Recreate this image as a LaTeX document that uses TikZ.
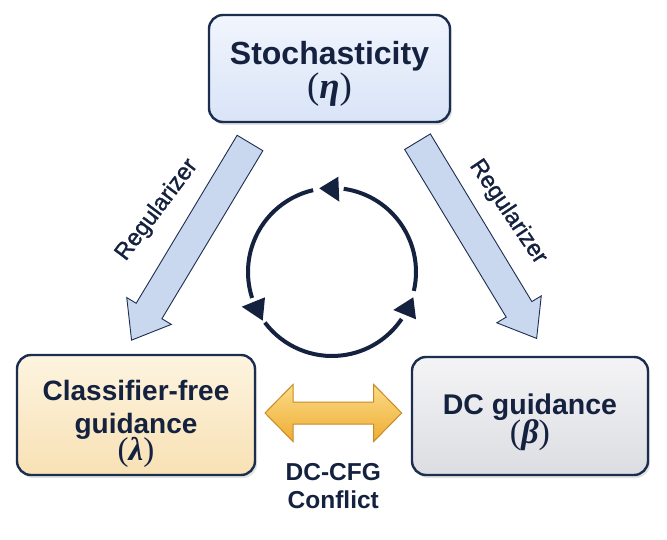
\documentclass[tikz,border=0pt]{standalone}
\usepackage{fontspec}
\setmainfont{Liberation Sans}
\newfontfamily\grk{Liberation Serif}
\newcommand{\gsym}[1]{{\grk\mdseries(\textbf{\textit{#1}})}}
\newcommand{\noskip}{\lineskiplimit-100pt\relax}
\usetikzlibrary{shadows,calc}
\definecolor{navy}{HTML}{15223F}
\definecolor{boxline}{HTML}{1C2E50}
\definecolor{bluetop}{HTML}{F1F5FD}
\definecolor{bluebot}{HTML}{D9E4F7}
\definecolor{yeltop}{HTML}{FDF4E0}
\definecolor{yelbot}{HTML}{F8E1B4}
\definecolor{graytop}{HTML}{F4F4F6}
\definecolor{graybot}{HTML}{DCDDE2}
\definecolor{arrowfill}{HTML}{C9D8EF}
\definecolor{dbltop}{HTML}{FADB88}
\definecolor{dblbot}{HTML}{EFAD33}
\definecolor{dblline}{HTML}{C98A22}
\begin{document}
\begin{tikzpicture}[x=1pt,y=1pt,
  box/.style={draw=boxline, line width=2.4pt, rounded corners=14pt, align=center,
    text=navy, inner sep=0pt,
    drop shadow={opacity=0.22, shadow xshift=2pt, shadow yshift=-3pt}},
  bigarrow/.style={draw=boxline, line width=0.9pt, fill=arrowfill, line join=miter},
  dblarrow/.style={draw=dblline, line width=1pt, top color=dbltop, bottom color=dblbot},
  cycarc/.style={draw=navy, line width=4pt},
  tip/.style={fill=navy},
  reglabel/.style={text=navy, font={\fontsize{23.5}{23.5}\selectfont\addfontfeature{FakeBold=1.2}}},
]
\fill[white] (0,0) rectangle (667,539);
\useasboundingbox (0,0) rectangle (667,539);

% boxes
\node[box, top color=bluetop, bottom color=bluebot, minimum width=241pt, minimum height=107pt,
  font={\bfseries\fontsize{32}{34}\selectfont\noskip}] (stoch) at (329.5,470.5)
  {\rule{0pt}{33pt}Stochasticity\\{\fontsize{37}{34}\selectfont\gsym{η}}};
\node[box, top color=yeltop, bottom color=yelbot, minimum width=238pt, minimum height=120pt,
  font={\bfseries\fontsize{28}{33}\selectfont\noskip}] (cfg) at (136,124)
  {\rule{0pt}{38pt}Classifier-free\\guidance\\[-6pt]{\fontsize{33}{33}\selectfont\gsym{λ}}};
\node[box, top color=graytop, bottom color=graybot, minimum width=236pt, minimum height=118pt,
  font={\bfseries\fontsize{28.5}{29}\selectfont\noskip}] (dc) at (530,123)
  {\rule{0pt}{33pt}DC guidance\\{\fontsize{34}{29}\selectfont\gsym{β}}};

% regularizer arrows
\coordinate (l0) at (250,396);
\coordinate (r0) at (417.5,397.3);
\begin{scope}[shift={(l0)}, rotate=-121]
  \draw[bigarrow] (0,-15) -- (196,-15) -- (196,-26) -- (230,0) -- (196,26) -- (196,15) -- (0,15) -- cycle;
\end{scope}
\begin{scope}[shift={(r0)}, rotate=-58.8]
  \draw[bigarrow] (0,-15) -- (196,-15) -- (196,-26) -- (230,0) -- (196,26) -- (196,15) -- (0,15) -- cycle;
\end{scope}
\node[reglabel, rotate=53] (regL) at (157,329) {Regularizer};
\node[reglabel, rotate=-56] (regR) at (508,327) {Regularizer};

% cycle
\coordinate (cyc) at (332,267);
\draw[cycarc] ([shift={(103:84)}]cyc) arc[start angle=103, end angle=198, radius=84];
\draw[cycarc] ([shift={(217:84)}]cyc) arc[start angle=217, end angle=326, radius=84];
\draw[cycarc] ([shift={(347:84)}]cyc) arc[start angle=347, end angle=442, radius=84];
\fill[tip] (319.3,350.7) -- (338.3,362.3) -- (339.3,337.3) -- cycle;
\fill[tip] (241.7,232.3) -- (265,241.7) -- (262.7,218.3) -- cycle;
\fill[tip] (393.3,229) -- (413.3,241.7) -- (416,219.7) -- cycle;

% conflict double arrow
\coordinate (la) at (265,126);
\coordinate (ra) at (401.7,126);
\draw[dblarrow] (la) -- ($(la)+(28,28.5)$) -- ($(la)+(28,11)$) -- ($(ra)+(-28,11)$)
  -- ($(ra)+(-28,28.5)$) -- (ra) -- ($(ra)+(-28,-28.5)$) -- ($(ra)+(-28,-11)$)
  -- ($(la)+(28,-11)$) -- ($(la)+(28,-28.5)$) -- cycle;
\node[text=navy, align=center, font={\bfseries\fontsize{24.5}{27.3}\selectfont}] (conf) at (333.3,53)
  {DC-CFG\\Conflict};
\end{tikzpicture}
\end{document}
